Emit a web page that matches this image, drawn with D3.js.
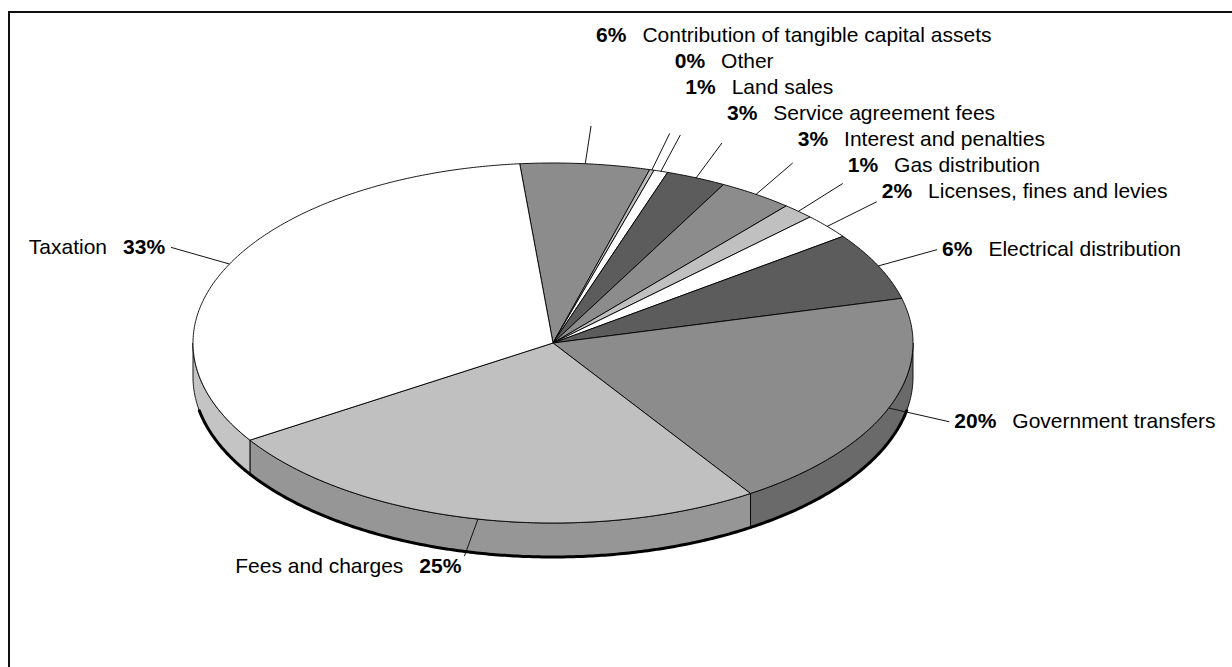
<!DOCTYPE html>
<html>
<head>
<meta charset="utf-8">
<script src="https://cdn.jsdelivr.net/npm/d3@7"></script>
<style>
  html, body { margin: 0; padding: 0; background: #fff; }
  svg { display: block; }
</style>
</head>
<body>
<svg id="chart" width="1232" height="667"></svg>
<script>
// Revenue sources, clockwise from the top of the pie
const categories = [
  "Contribution of tangible capital assets",
  "Other",
  "Land sales",
  "Service agreement fees",
  "Interest and penalties",
  "Gas distribution",
  "Licenses, fines and levies",
  "Electrical distribution",
  "Government transfers",
  "Fees and charges",
  "Taxation"
];
// Share of total revenue (%)
const shares = [5.80, 0.20, 0.63, 2.70, 3.36, 1.44, 2.25, 6.10, 19.75, 25.17, 32.60];

// Grey fills cycling through the slices: top face and darker side wall
const topShades  = ["#8c8c8c", "#c0c0c0", "#ffffff", "#5c5c5c"];
const sideShades = ["#6a6a6a", "#969696", "#c4c4c4", "#404040"];

const cx = 553, cy = 343;      // centre of the top face
const rx = 360, ry = 180;      // top face ellipse radii
const depth = 34;              // thickness of the disc
const lrx = 425, lry = 218;    // ellipse on which leader lines end
const fontFamily = "Arial, 'Liberation Sans', sans-serif";
const fontSize = 21;
const rowGap = 26;

const svg = d3.select("#chart");

// frame
svg.append("rect")
  .attr("x", 9).attr("y", 12)
  .attr("width", 1240).attr("height", 700)
  .attr("fill", "none").attr("stroke", "#111").attr("stroke-width", 2);

const startAngle = -5.3 * Math.PI / 180;
const pie = d3.pie()
  .sort(null)
  .value(d => d.value)
  .startAngle(startAngle)
  .endAngle(startAngle + 2 * Math.PI);

const data = categories.map((name, i) => ({ name, value: shares[i], i }));
const arcs = pie(data);
const total = d3.sum(shares);

// project a pie angle (0 = 12 o'clock, clockwise) onto the tilted ellipse
const proj = (a, rX, rY, off = 0) => [cx + rX * Math.sin(a), cy - rY * Math.cos(a) + off];
const sample = (a0, a1, rX, rY, off = 0) => {
  const n = Math.max(2, Math.ceil(Math.abs(a1 - a0) / (Math.PI / 360)));
  return d3.range(n + 1).map(k => proj(a0 + (a1 - a0) * k / n, rX, rY, off));
};
const line = d3.line();

const gSide = svg.append("g");
const gTop = svg.append("g");
const gLead = svg.append("g");
const gLab = svg.append("g");

// side walls: only the front half of the disc is visible
arcs.forEach(a => {
  const s = Math.max(a.startAngle, Math.PI / 2);
  const e = Math.min(a.endAngle, 3 * Math.PI / 2);
  if (s >= e) return;
  const pts = sample(s, e, rx, ry, 0).concat(sample(e, s, rx, ry, depth));
  gSide.append("path")
    .attr("d", line(pts) + "Z")
    .attr("fill", sideShades[a.data.i % 4])
    .attr("stroke", "#000").attr("stroke-width", 0.9)
    .attr("stroke-linejoin", "round");
});

// heavy lower rim
gSide.append("path")
  .attr("d", line(sample(0.56 * Math.PI, 1.44 * Math.PI, rx, ry, depth)))
  .attr("fill", "none").attr("stroke", "#000").attr("stroke-width", 3)
  .attr("stroke-linecap", "round");

// top faces
arcs.forEach(a => {
  const pts = [[cx, cy]].concat(sample(a.startAngle, a.endAngle, rx, ry));
  gTop.append("path")
    .attr("d", line(pts) + "Z")
    .attr("fill", topShades[a.data.i % 4])
    .attr("stroke", "#000").attr("stroke-width", 0.9)
    .attr("stroke-linejoin", "round");
});

// leader lines and label anchors
const labels = arcs.map(a => {
  const mid = (a.startAngle + a.endAngle) / 2;
  const rim = proj(mid, rx, ry);
  const end = proj(mid, lrx, lry);
  gLead.append("line")
    .attr("x1", rim[0]).attr("y1", rim[1])
    .attr("x2", end[0]).attr("y2", end[1])
    .attr("stroke", "#111").attr("stroke-width", 1);
  const share = a.data.value / total;
  const right = Math.sin(mid) >= 0;
  const below = Math.cos(mid) < -0.8;
  const small = share < 0.05;
  let y = below ? end[1] + 9 : end[1] - 1 - (small ? 10 : 0);
  let x = right ? end[0] + 5 : end[0] - (below ? 3 : 6);
  return { a, mid, right, below, x, y, pct: Math.round(share * 100) + "%" };
});

// stack the upper-right labels so they never overlap
const upperRight = labels.filter(l => l.right && Math.cos(l.mid) > 0)
  .sort((p, q) => q.mid - p.mid);
let prev = Infinity;
upperRight.forEach(l => {
  l.y = Math.min(l.y, prev - rowGap);
  prev = l.y;
});

labels.forEach(l => {
  const t = gLab.append("text")
    .attr("x", l.x)
    .attr("y", l.y + 0.358 * fontSize)
    .attr("font-family", fontFamily)
    .attr("font-size", fontSize)
    .attr("fill", "#000")
    .attr("text-anchor", l.right ? "start" : "end");
  if (l.right) {
    t.append("tspan").attr("font-weight", "bold").text(l.pct);
    t.append("tspan").attr("dx", 16).text(l.a.data.name);
  } else {
    t.append("tspan").text(l.a.data.name);
    t.append("tspan").attr("dx", 16).attr("font-weight", "bold").text(l.pct);
  }
});
</script>
</body>
</html>
